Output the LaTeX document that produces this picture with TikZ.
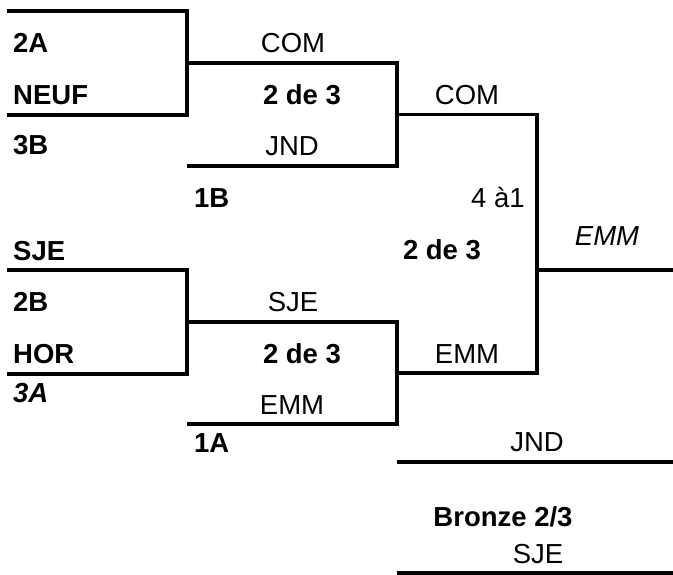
\documentclass[tikz,border=0pt]{standalone}
\usepackage{fontspec}
\setmainfont{Liberation Sans}
\usetikzlibrary{positioning}

\begin{document}
\begin{tikzpicture}[x=1pt,y=-1pt,line join=miter,
  font=\fontsize{27.5}{30}\selectfont,
  team/.style={anchor=base west,inner sep=0pt,font=\fontsize{27.5}{30}\selectfont\bfseries},
  pick/.style={anchor=base,inner sep=0pt},
  series/.style={pick,font=\fontsize{27.5}{30}\selectfont\bfseries},
  bracket/.style={line width=3.6pt}]
\useasboundingbox (0,0) rectangle (673,574);

% first round
\coordinate (qAt) at (7,11);   \coordinate (qAb) at (7,115);
\coordinate (qBt) at (7,270);  \coordinate (qBb) at (7,374);
\draw[bracket] (qAt) -- (187,11) -- (187,115) -- (qAb);
\draw[bracket] (qBt) -- (187,270) -- (187,374) -- (qBb);

% semi-finals
\coordinate (sAt) at (187,63);  \coordinate (sAb) at (187,166);
\coordinate (sBt) at (187,322); \coordinate (sBb) at (187,424);
\draw[bracket] (sAt) -- (397,63) -- (397,166) -- (sAb);
\draw[bracket] (sBt) -- (397,322) -- (397,424) -- (sBb);

% final
\coordinate (fTop) at (397,114.5); \coordinate (fBot) at (397,373);
\coordinate (champ) at (673,270);
\draw[bracket] (fTop) -- (537,114.5) -- (537,373) -- (fBot);
\draw[bracket] (537,270) -- (champ);

% bronze
\coordinate (bzA) at (397,462); \coordinate (bzAe) at (673,462);
\coordinate (bzB) at (397,573); \coordinate (bzBe) at (673,573);
\draw[bracket] (bzA) -- (bzAe);
\draw[bracket] (bzB) -- (bzBe);

% labels, upper half
\node[team] (t2A) at (13,52) {2A};
\node[team] (tNEUF) at (13,104) {NEUF};
\node[team] (t3B) at (13,154) {3B};
\node[team] (t1B) at (194,207) {1B};
\node[pick] (sACOM) at (293,52) {COM};
\node[series] (sAser) at (302,104) {2 de 3};
\node[pick] (sAJND) at (292,155) {JND};

% labels, lower half
\node[team] (tSJE) at (13,260) {SJE};
\node[team] (t2B) at (13,311) {2B};
\node[team] (tHOR) at (13,363) {HOR};
\node[team,font=\fontsize{27.5}{30}\selectfont\bfseries\itshape] (t3A) at (13,402) {3A};
\node[team] (t1A) at (194,452) {1A};
\node[pick] (sBSJE) at (293,311) {SJE};
\node[series] (sBser) at (302,363) {2 de 3};
\node[pick] (sBEMM) at (292,414) {EMM};

% final labels
\node[pick] (fCOM) at (467,104) {COM};
\node[pick] (fscore) at (498,207) {4 à1};
\node[series] (fser) at (442,259) {2 de 3};
\node[pick] (fEMM) at (467,363) {EMM};
\node[pick,font=\fontsize{27.5}{30}\selectfont\itshape] (winner) at (607,245) {EMM};

% bronze labels
\node[pick] (bzJND) at (537,451) {JND};
\node[series] (bzser) at (503,526) {Bronze 2/3};
\node[pick] (bzSJE) at (538,563) {SJE};
\end{tikzpicture}
\end{document}
